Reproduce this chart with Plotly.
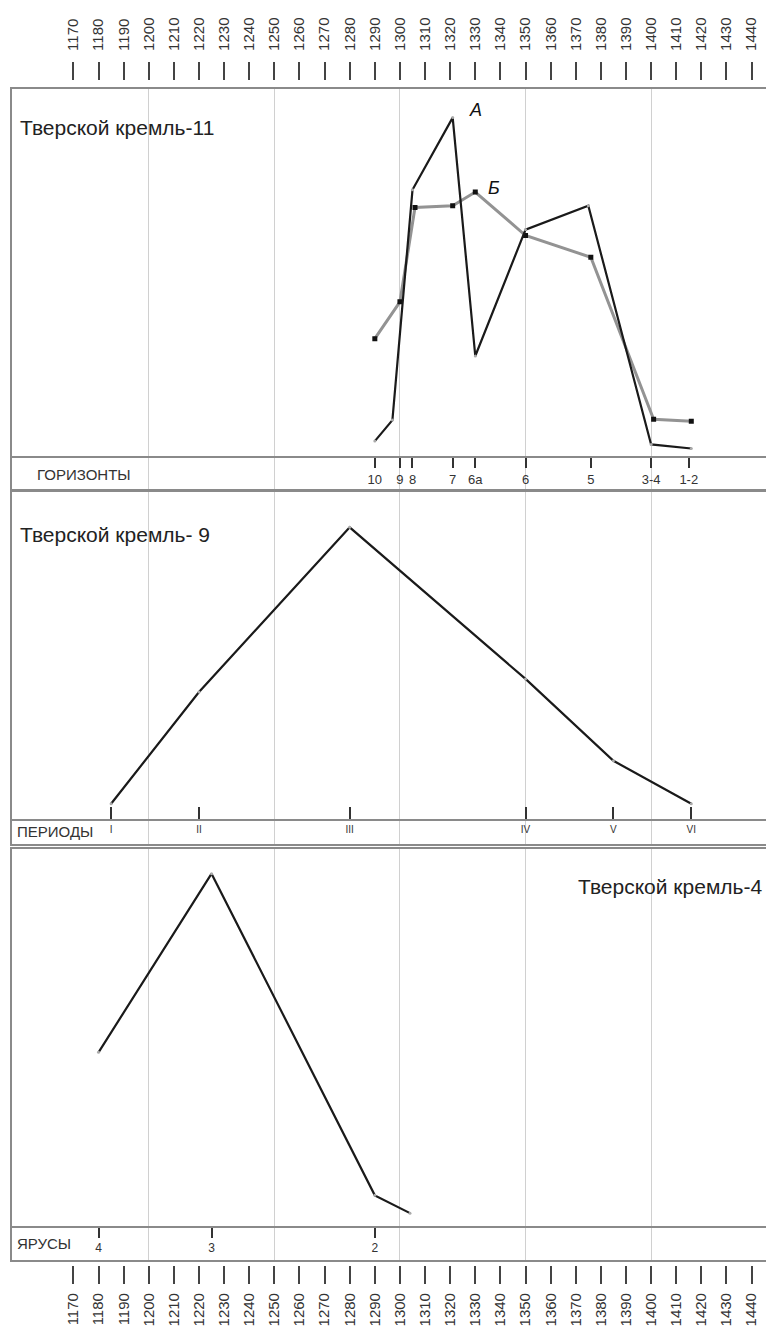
import plotly.graph_objects as go

# ---------------- data ----------------
year_ticks = list(range(1170, 1441, 10))
grid_years = [1200, 1250, 1300, 1350, 1400]

# Panel 1 : Тверской кремль-11 (горизонты)
horizon_labels = ["10", "9", "8", "7", "6а", "6", "5", "3-4", "1-2"]
horizon_years = [1290, 1300, 1305, 1321, 1330, 1350, 1376, 1400, 1415]
a_years = [1290, 1297, 1305, 1321, 1330, 1350, 1375, 1400, 1416]
a_values = [4.4, 10.1, 72.6, 92.2, 27.5, 61.8, 68.3, 3.5, 2.4]
b_years = [1290, 1300, 1306, 1321, 1330, 1350, 1376, 1401, 1416]
b_values = [32.2, 42.2, 67.8, 68.3, 72.0, 60.2, 54.3, 10.3, 9.8]

# Panel 2 : Тверской кремль-9 (периоды)
period_labels = ["I", "II", "III", "IV", "V", "VI"]
period_years = [1185, 1220, 1280, 1350, 1385, 1416]
period_values = [4.9, 39.0, 89.3, 43.0, 18.0, 4.9]

# Panel 3 : Тверской кремль-4 (ярусы)
tier_labels = ["4", "3", "2"]
tier_years = [1180, 1225, 1290]
tier_line_years = [1180, 1225, 1290, 1304]
tier_line_values = [46.2, 93.4, 8.4, 3.7]

# ---------------- layout constants (window pixels) ----------------
OFF = 8                      # default page body margin
WIN_W, WIN_H = 774, 1326
W, H = WIN_W - OFF, WIN_H - OFF
PX_L, PX_R = 12, 773
X1170, PPY = 73.5, 2.515
x_range = [1170 - (X1170 - PX_L) / PPY, 1170 + (PX_R - X1170) / PPY]


def px(p):
    return (p - OFF) / W


def py(p):
    return 1 - (p - OFF) / H


x_dom = [px(PX_L), px(PX_R)]
# (top border, strip line, bottom border)
panels = [(89, 458, 490), (493, 821, 845), (850, 1229, 1262)]
TOP_AXIS_PX, BOT_AXIS_PX = 80, 1267

FONT = "Liberation Sans, Arial, sans-serif"
FRAME = "#8a8a8a"
GRID = "#d0d0d0"
INK = "#1a1a1a"

fig = go.Figure()

# data traces
fig.add_trace(go.Scatter(x=b_years, y=b_values, xaxis="x", yaxis="y", mode="lines+markers",
                         line=dict(color="#939393", width=3),
                         marker=dict(symbol="square", size=5, color="#111"), showlegend=False))
fig.add_trace(go.Scatter(x=a_years, y=a_values, xaxis="x", yaxis="y", mode="lines+markers",
                         line=dict(color=INK, width=2.2),
                         marker=dict(size=3, color="#aaa"), showlegend=False))
fig.add_trace(go.Scatter(x=period_years, y=period_values, xaxis="x2", yaxis="y2", mode="lines+markers",
                         line=dict(color=INK, width=2.2),
                         marker=dict(size=3, color="#aaa"), showlegend=False))
fig.add_trace(go.Scatter(x=tier_line_years, y=tier_line_values, xaxis="x3", yaxis="y3", mode="lines+markers",
                         line=dict(color=INK, width=2.2),
                         marker=dict(size=3, color="#aaa"), showlegend=False))
# empty traces to register overlay axes
for ax, yax in [("x4", "y"), ("x5", "y2"), ("x6", "y3"), ("x7", "y"), ("x8", "y3")]:
    fig.add_trace(go.Scatter(x=[], y=[], xaxis=ax, yaxis=yax, showlegend=False, hoverinfo="skip"))

layout = dict(width=W, height=H, margin=dict(l=0, r=0, t=0, b=0),
              plot_bgcolor="white", paper_bgcolor="white", showlegend=False,
              font=dict(family=FONT, color="#222"))

for i, (top, line, bot) in enumerate(panels):
    n = "" if i == 0 else str(i + 1)
    ymin = -100 * (bot - line) / (line - top)
    layout["xaxis" + n] = dict(domain=x_dom, range=x_range, anchor="y" + n,
                               tickmode="array", tickvals=grid_years, showticklabels=False,
                               ticks="", showgrid=True, gridcolor=GRID, gridwidth=1,
                               zeroline=False, showline=True, mirror=True,
                               linecolor=FRAME, linewidth=2)
    layout["yaxis" + n] = dict(domain=[py(bot), py(top)], range=[ymin, 100], anchor="x" + n,
                               showgrid=False, showticklabels=False, ticks="", zeroline=False,
                               showline=True, mirror=True, linecolor=FRAME, linewidth=2)

strip_specs = [("xaxis4", "x", panels[0][1], horizon_years, horizon_labels, "outside", 10, 13),
               ("xaxis5", "x2", panels[1][1], period_years, period_labels, "inside", 12, 10),
               ("xaxis6", "x3", panels[2][1], tier_years, tier_labels, "outside", 10, 12)]
for name, over, linepx, tv, tt, tk, tl, fs in strip_specs:
    layout[name] = dict(overlaying=over, anchor="free", position=py(linepx), side="bottom",
                        domain=x_dom, range=x_range, tickmode="array", tickvals=tv, ticktext=tt,
                        ticks=tk, ticklen=tl, tickwidth=1.5, tickcolor="#333",
                        tickfont=dict(size=fs, color="#333", family=FONT),
                        showgrid=False, zeroline=False, showline=True, linecolor=FRAME, linewidth=1.5)

for name, over, pospx, side, standoff in [("xaxis7", "x", TOP_AXIS_PX, "top", 8),
                                          ("xaxis8", "x3", BOT_AXIS_PX, "bottom", 3)]:
    layout[name] = dict(overlaying=over, anchor="free", position=py(pospx), side=side,
                        domain=x_dom, range=x_range, tickmode="array", tickvals=year_ticks,
                        ticks="outside", ticklen=18, tickwidth=2, tickcolor="#444",
                        tickangle=-90, ticklabelstandoff=standoff,
                        tickfont=dict(size=15, color="#333", family=FONT),
                        showgrid=False, zeroline=False, showline=False)

annotations = [
    dict(xref="paper", yref="paper", x=px(18), y=py(128), xanchor="left", yanchor="middle",
         text="Тверской кремль-11", showarrow=False, font=dict(size=21, color="#222")),
    dict(xref="paper", yref="paper", x=px(18), y=py(535), xanchor="left", yanchor="middle",
         text="Тверской кремль- 9", showarrow=False, font=dict(size=21, color="#222")),
    dict(xref="paper", yref="paper", x=px(766), y=py(888), xanchor="right", yanchor="middle",
         text="Тверской кремль-4", showarrow=False, font=dict(size=21, color="#222")),
    dict(xref="paper", yref="paper", x=px(35), y=py(475), xanchor="left", yanchor="middle",
         text="ГОРИЗОНТЫ", showarrow=False, font=dict(size=15, color="#333")),
    dict(xref="paper", yref="paper", x=px(15), y=py(833), xanchor="left", yanchor="middle",
         text="ПЕРИОДЫ", showarrow=False, font=dict(size=15, color="#333")),
    dict(xref="paper", yref="paper", x=px(15), y=py(1245), xanchor="left", yanchor="middle",
         text="ЯРУСЫ", showarrow=False, font=dict(size=15, color="#333")),
    dict(xref="x", yref="y", x=a_years[3], y=a_values[3], xshift=23, yshift=8,
         text="<i>А</i>", showarrow=False, font=dict(size=18, color="#111")),
    dict(xref="x", yref="y", x=b_years[4], y=b_values[4], xshift=19, yshift=4,
         text="<i>Б</i>", showarrow=False, font=dict(size=18, color="#111")),
]
layout["annotations"] = annotations
fig.update_layout(**layout)

fig.write_html("out.html")
